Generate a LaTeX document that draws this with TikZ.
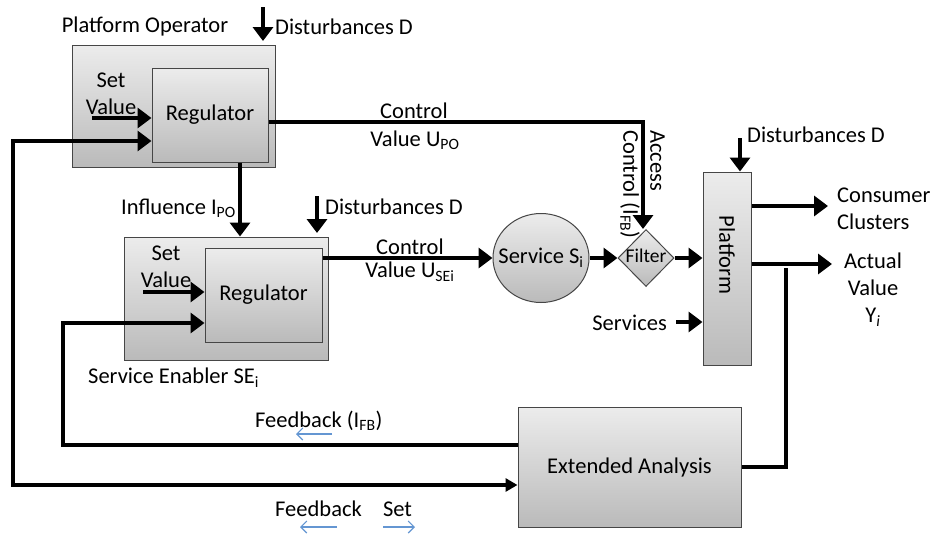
\documentclass[tikz,border=0pt]{standalone}
\usepackage{fontspec}
\setmainfont{Carlito}
\usetikzlibrary{arrows.meta,shapes.geometric}

\definecolor{shadetop}{RGB}{236,236,236}
\definecolor{shadebot}{RGB}{186,186,186}
\definecolor{edge}{RGB}{70,70,70}
\definecolor{hint}{RGB}{100,150,210}

\tikzset{
  blk/.style={draw=edge, line width=1pt, top color=shadetop, bottom color=shadebot,
              inner sep=0pt, font=\fontsize{22.5}{27}\selectfont},
  lbl/.style={inner sep=0pt, font=\fontsize{22.5}{27}\selectfont},
  wire/.style={line width=4pt},
  flow/.style={wire, -{Triangle[length=14pt,width=20pt]}},
  hintarrow/.style={draw=hint, line width=1.1pt, -{Straight Barb[length=6pt,width=12pt]}}
}

\begin{document}
\begin{tikzpicture}[x=1pt, y=-1pt]
\useasboundingbox (0,0) rectangle (935,536);

% ---------- Platform operator ----------
\node[blk, minimum width=203pt, minimum height=122pt] (po) at (173.5,106) {};
\node[blk, minimum width=116pt, minimum height=94pt] (poreg) at (210,115) {Regulator};
\node[lbl] (potitle) at (145,26) {Platform Operator};
\node[lbl, align=center] (posv) at (111,94) {Set\\Value};
\coordinate (d1a) at (263,7);
\coordinate (d1b) at (263,41);
\draw[flow] (d1a) -- (d1b);
\node[lbl, anchor=west] (d1t) at (275,27) {Disturbances D};
\coordinate (sv1) at (92,118);
\draw[flow] (sv1) -- (sv1 -| poreg.west);

% ---------- Service enabler ----------
\node[blk, minimum width=204pt, minimum height=123pt] (se) at (226,298.5) {};
\node[blk, minimum width=117pt, minimum height=94pt] (sereg) at (263.5,295) {Regulator};
\node[lbl, anchor=west] (setitle) at (88,378) {Service Enabler SE\textsubscript{i}};
\node[lbl, align=center] (sesv) at (166,267) {Set\\Value};
\coordinate (sv2) at (143,292);
\draw[flow] (sv2) -- (sv2 -| sereg.west);
\coordinate (d2a) at (317,196);
\coordinate (d2b) at (317,233);
\draw[flow] (d2a) -- (d2b);
\node[lbl, anchor=west] (d2t) at (325,207) {Disturbances D};

% influence from operator to enabler
\coordinate (infx) at (240,200);
\node[lbl, anchor=east] (inft) at (236,208) {Influence I\textsubscript{PO}};
\draw[flow] (infx |- poreg.south) -- (infx |- se.north);

% ---------- Service, filter, platform ----------
\node[blk, ellipse, minimum width=96pt, minimum height=89pt] (svc) at (541,258) {};
\node[lbl] (svct) at (541,258) {Service S\textsubscript{i}};
\node[blk, diamond, minimum width=56pt, minimum height=57pt] (filt) at (646,258) {};
\node[lbl, font=\fontsize{19.5}{23}\selectfont] (filtt) at (646,256) {Filter};
\node[blk, minimum width=48pt, minimum height=193pt] (plat) at (727,268.5) {};
\node[lbl, rotate=-90] (platt) at (727,255) {Platform};

% control value of the operator
\coordinate (cpoc) at (643,122);
\draw[flow] (cpoc -| poreg.east) -- (cpoc) -- (cpoc |- filt.north);
\node[lbl] (cpo1) at (414,111) {Control};
\node[lbl] (cpo2) at (415,140) {Value U\textsubscript{PO}};
\node[lbl, rotate=-90, anchor=north west, align=left] (acc) at (665,130)
  {Access\\Control (I\textsubscript{FB})};

% control value of the enabler
\draw[flow] (svc.west -| sereg.east) -- (svc.west);
\node[lbl] (cse1) at (410,247) {Control};
\node[lbl] (cse2) at (410,272) {Value U\textsubscript{SEi}};

\draw[flow] (svc.east) -- (filt.west);
\draw[flow] (filt.east) -- (filt.east -| plat.west);

\coordinate (srv) at (676,322);
\draw[flow] (srv) -- (srv -| plat.west);
\node[lbl, anchor=east] (srvt) at (667,323) {Services};

\coordinate (d3a) at (740,138);
\draw[flow] (d3a) -- (d3a |- plat.north);
\node[lbl, anchor=west] (d3t) at (747,135) {Disturbances D};

% outputs
\coordinate (cons) at (828,206);
\draw[flow] (cons -| plat.east) -- (cons);
\node[lbl, anchor=west, align=left] (const) at (837,208.5) {Consumer\\Clusters};
\coordinate (act) at (832,264);
\draw[flow] (act -| plat.east) -- (act);
\node[lbl, align=center] (actt) at (873,289.5) {Actual\\Value\\Y\textsubscript{\itshape i}};

% ---------- Extended analysis and feedback ----------
\node[blk, minimum width=223pt, minimum height=120pt] (ea) at (629.5,467) {Extended Analysis};
\coordinate (tap) at (786,268);
\draw[wire] (ea.east) -| (tap);

\coordinate (fbA) at (63,445);
\coordinate (fbB) at (63,323);
\draw[flow] (fbA -| ea.west) -- (fbA) -- (fbB) -- (fbB -| sereg.west);

\coordinate (fbC) at (13,485);
\coordinate (fbD) at (13,141);
\draw[wire, {Triangle[length=12pt,width=13pt]}-{Triangle[length=14pt,width=20pt]}]
  (fbC -| ea.west) -- (fbC) -- (fbD) -- (fbD -| poreg.west);

\node[lbl, anchor=west] (fbl1) at (255,421) {Feedback (I\textsubscript{FB})};
\coordinate (h1a) at (332,434);
\coordinate (h1b) at (296,434);
\draw[hintarrow] (h1a) -- (h1b);

\node[lbl] (fbl2) at (318.5,509) {Feedback};
\node[lbl] (setl) at (397.5,509) {Set};
\coordinate (h2a) at (337,527);
\coordinate (h2b) at (300,527);
\draw[hintarrow] (h2a) -- (h2b);
\coordinate (h3a) at (383,527);
\coordinate (h3b) at (415,527);
\draw[hintarrow] (h3a) -- (h3b);
\end{tikzpicture}
\end{document}
